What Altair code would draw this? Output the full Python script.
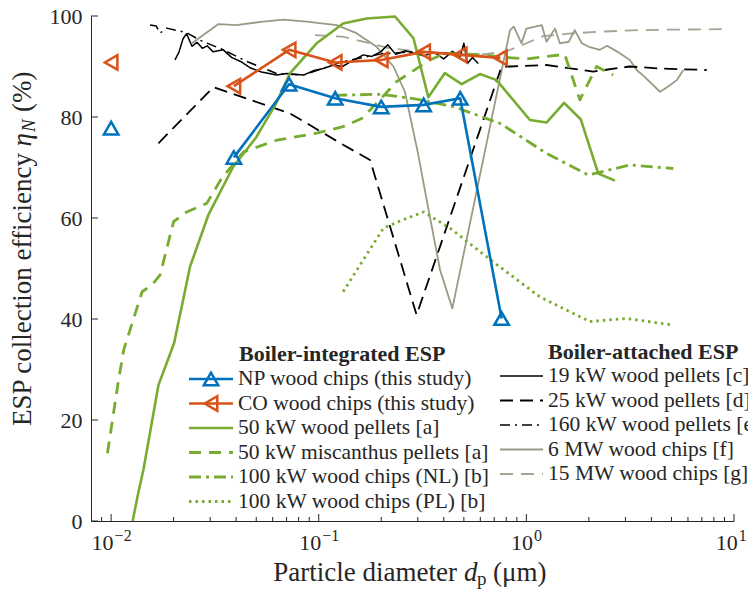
import altair as alt
import pandas as pd

FONT = "Liberation Serif"
TXT = "#262626"
BLUE = "#0072BD"
ORANGE = "#D95319"
GREEN = "#77AC30"
GRAY = "#9a9a86"
GRAY2 = "#a4a493"
BLACK = "#000000"

# ---------------- data ----------------
np0_x = [0.01]
np0_y = [77.8]
np_x = [0.039, 0.072, 0.12, 0.2, 0.32, 0.48, 0.76]
np_y = [72.0, 86.5, 83.7, 82.0, 82.4, 83.7, 40.1]

co0_x = [0.01]
co0_y = [90.8]
co_x = [0.039, 0.072, 0.12, 0.2, 0.32, 0.48, 0.75]
co_y = [86.1, 93.3, 90.8, 91.3, 92.9, 92.3, 91.7]

p50_x = [0.0127, 0.0135, 0.0143, 0.0169, 0.0201, 0.024, 0.0294, 0.0388, 0.05, 0.062, 0.0728,
         0.0977, 0.131, 0.170, 0.233, 0.286, 0.337, 0.405, 0.488, 0.598, 0.719, 1.04, 1.25,
         1.52, 1.83, 2.22, 2.67]
p50_y = [0.0, 5.5, 10.1, 26.9, 35.2, 50.4, 60.6, 70.2, 76.0, 82.5, 88.7,
         94.6, 98.5, 99.5, 99.9, 95.6, 83.9, 88.7, 86.5, 88.5, 87.3, 79.4, 78.9,
         82.8, 79.5, 68.8, 67.4]

misc_x = [0.0096, 0.0108, 0.0115, 0.0141, 0.0157, 0.0172, 0.020, 0.0231, 0.0289, 0.0341, 0.0434,
          0.0628, 0.0977, 0.131, 0.161, 0.197, 0.237, 0.343, 0.405, 0.62, 0.8, 1.0, 1.25, 1.53,
          1.81, 2.18, 2.62]
misc_y = [13.4, 27.3, 33.9, 45.4, 46.7, 48.7, 59.3, 61.2, 62.9, 67.9, 73.1,
          75.4, 76.8, 78.1, 79.7, 83.4, 87.0, 91.3, 92.6, 92.3, 91.8, 91.5, 92.0, 92.4,
          83.4, 90.0, 88.3]

nl_x = [0.12, 0.2, 0.3, 0.45, 0.75, 1.25, 1.99, 3.15, 5.1]
nl_y = [84.3, 84.5, 83.5, 82.0, 78.7, 72.8, 68.5, 70.5, 69.8]

pl_x = [0.131, 0.205, 0.25, 0.32, 0.428, 0.693, 1.16, 2.02, 3.04, 5.1]
pl_y = [45.4, 58.0, 59.5, 61.2, 58.0, 51.3, 44.4, 39.5, 40.1, 38.8]

k19_x = [0.0203, 0.0212, 0.0222, 0.0231, 0.0245, 0.0259, 0.0275, 0.029, 0.031, 0.0347, 0.038,
         0.042, 0.047, 0.053, 0.0628, 0.07, 0.0843, 0.095, 0.105, 0.118, 0.13, 0.145, 0.164,
         0.18, 0.2, 0.215, 0.235, 0.26, 0.29, 0.32, 0.36, 0.4, 0.44, 0.48, 0.5, 0.52, 0.55, 0.586]
k19_y = [91.3, 92.8, 95.5, 96.5, 94.0, 94.8, 93.6, 94.1, 92.9, 93.3, 91.8,
         91.0, 89.7, 88.9, 88.3, 88.6, 88.3, 89.2, 89.6, 90.3, 90.0, 91.1, 92.3,
         92.0, 93.0, 94.3, 92.4, 93.1, 92.6, 92.1, 92.8, 91.5, 93.0, 92.0, 94.6, 90.6, 91.8, 90.6]

k25_x = [0.0169, 0.0311, 0.0728, 0.131, 0.1766, 0.296, 0.76, 0.834, 1.25, 2.1, 3.15, 4.4, 7.4]
k25_y = [74.8, 85.9, 80.7, 74.5, 71.5, 40.8, 90.0, 90.0, 90.3, 89.0, 90.0, 89.6, 89.3]

k160_x = [0.0154, 0.0165, 0.0172, 0.0185, 0.0231, 0.0268, 0.0347, 0.045, 0.0628, 0.0843, 0.131,
          0.2, 0.3, 0.45]
k160_y = [98.2, 98.0, 96.6, 97.6, 96.7, 95.2, 93.3, 91.0, 88.6, 88.3, 91.0, 92.5, 93.0, 92.5]

mw6_x = [0.0245, 0.0329, 0.04, 0.0541, 0.0676, 0.0875, 0.122, 0.152, 0.19, 0.229, 0.26, 0.3,
         0.331, 0.384, 0.44, 0.834, 0.87, 0.948, 1.0, 1.186, 1.25, 1.374, 1.45, 1.6, 1.71,
         1.85, 2.0, 2.26, 2.45, 2.75, 3.15, 3.4, 3.7, 4.4, 4.8, 5.3, 5.7]
mw6_y = [94.6, 98.4, 98.2, 98.9, 99.3, 98.9, 98.2, 96.6, 93.9, 90.0, 85.0, 73.0,
         63.6, 49.7, 42.1, 97.2, 97.9, 94.6, 97.5, 98.2, 94.9, 97.5, 94.6, 94.9, 97.2,
         94.6, 93.9, 93.3, 94.1, 92.9, 91.3, 89.3, 88.0, 85.0, 86.0, 87.3, 89.3]

mw15_x = [0.096, 0.13, 0.177, 0.22, 0.3, 0.45, 0.6, 0.8, 1.0, 1.2, 1.6, 2.26, 3.5, 5.0, 9.2]
mw15_y = [96.2, 95.9, 94.6, 93.6, 93.0, 92.5, 92.3, 93.0, 94.6, 96.0, 96.5, 96.9, 97.2, 97.3, 97.4]

y_ticks = [0, 20, 40, 60, 80, 100]
x_major = [0.01, 0.1, 1, 10]
x_minor = [0.009, 0.02, 0.03, 0.04, 0.05, 0.06, 0.07, 0.08, 0.09,
           0.2, 0.3, 0.4, 0.5, 0.6, 0.7, 0.8, 0.9,
           2, 3, 4, 5, 6, 7, 8, 9]
x_exps = ["\u22122", "\u22121", "0", "1"]

leg1_title = "Boiler-integrated ESP"
leg1_labels = ["NP wood chips (this study)", "CO wood chips (this study)",
               "50 kW wood pellets [a]", "50 kW miscanthus pellets [a]",
               "100 kW wood chips (NL) [b]", "100 kW wood chips (PL) [b]"]
leg2_title = "Boiler-attached ESP"
leg2_labels = ["19 kW wood pellets [c]", "25 kW wood pellets [d]", "160 kW wood pellets [e]",
               "6 MW wood chips [f]", "15 MW wood chips [g]"]

# ---------------- chart ----------------
W, H = 643, 505
xscale = alt.Scale(type="log", domain=[0.008, 10], nice=False)
yscale = alt.Scale(domain=[0, 100], nice=False)
xaxis = alt.Axis(values=x_major, labels=False, ticks=False, tickSize=0, grid=False,
                 domainColor=TXT, domainWidth=1, title=None)
yaxis = alt.Axis(values=y_ticks, ticks=False, tickSize=0, grid=False, domainColor=TXT,
                 domainWidth=1, labelFont=FONT, labelFontSize=22, labelColor=TXT,
                 labelPadding=9, title=None)


def X():
    return alt.X("x:Q", scale=xscale, axis=xaxis)


def Y():
    return alt.Y("y:Q", scale=yscale, axis=yaxis)


def line(xs, ys, color, width, dash=None):
    df = pd.DataFrame({"x": xs, "y": ys})
    kw = dict(color=color, strokeWidth=width, strokeJoin="round")
    if dash:
        kw["strokeDash"] = dash
    return alt.Chart(df).mark_line(**kw).encode(x=X(), y=Y())


def pts(xs, ys, color, shape):
    df = pd.DataFrame({"x": xs, "y": ys})
    return alt.Chart(df).mark_point(shape=shape, filled=False, color=color, strokeWidth=2.5,
                                    size=210, opacity=1).encode(x=X(), y=Y())


one = pd.DataFrame({"a": [0]})


def txt(x, y, s, size=21, align="left", angle=0, bold=False, italic=False, baseline="middle"):
    kw = dict(align=align, baseline=baseline, font=FONT, fontSize=size, color=TXT)
    if angle:
        kw["angle"] = angle
    if bold:
        kw["fontWeight"] = "bold"
    if italic:
        kw["fontStyle"] = "italic"
    return alt.Chart(one).mark_text(**kw).encode(x=alt.value(x), y=alt.value(y), text=alt.value(s))


layers = []
layers.append(line(mw15_x, mw15_y, GRAY2, 1.8, [13, 8]))
layers.append(line(mw6_x, mw6_y, GRAY, 1.8))
layers.append(line(k160_x, k160_y, BLACK, 1.5, [10, 5, 2, 5]))
layers.append(line(k25_x, k25_y, BLACK, 1.8, [13, 7]))
layers.append(line(k19_x, k19_y, BLACK, 1.5))
layers.append(line(pl_x, pl_y, GREEN, 2.8, [2.5, 4]))
layers.append(line(nl_x, nl_y, GREEN, 2.8, [12, 5, 3, 5]))
layers.append(line(misc_x, misc_y, GREEN, 2.8, [12, 8]))
layers.append(line(p50_x, p50_y, GREEN, 2.6))
layers.append(line(co_x, co_y, ORANGE, 2.6))
layers.append(pts(co_x + co0_x, co_y + co0_y, ORANGE, "triangle-left"))
layers.append(line(np_x, np_y, BLUE, 2.6))
layers.append(pts(np_x + np0_x, np_y + np0_y, BLUE, "triangle-up"))

maj = pd.DataFrame({"x": x_major})
mnr = pd.DataFrame({"x": x_minor})
yt = pd.DataFrame({"y": y_ticks})
layers.append(alt.Chart(maj).mark_rule(color=TXT, strokeWidth=1).encode(
    x=X(), y=alt.value(H), y2=alt.value(H - 7)))
layers.append(alt.Chart(mnr).mark_rule(color=TXT, strokeWidth=1).encode(
    x=X(), y=alt.value(H), y2=alt.value(H - 4)))
layers.append(alt.Chart(yt).mark_rule(color=TXT, strokeWidth=1).encode(
    y=Y(), x=alt.value(0), x2=alt.value(7)))

for v, e in zip(x_major, x_exps):
    wexp = 17 if len(e) > 1 else 8.5
    shift = (22 - wexp) / 2
    if v == 10:
        shift -= 3
    d = pd.DataFrame({"x": [v]})
    layers.append(alt.Chart(d).mark_text(align="right", baseline="middle", font=FONT,
                                         fontSize=22, color=TXT, dx=shift).encode(
        x=X(), y=alt.value(H + 22), text=alt.value("10")))
    layers.append(alt.Chart(d).mark_text(align="left", baseline="middle", font=FONT,
                                         fontSize=16, color=TXT, dx=shift + 1).encode(
        x=X(), y=alt.value(H + 15), text=alt.value(e)))

TS = 27
layers.append(txt(366, 557, "Particle diameter", TS, align="right"))
layers.append(txt(373, 557, "d", TS, italic=True))
layers.append(txt(386, 563, "p", 19))
layers.append(txt(402, 557, "(\u03bcm)", TS))

layers.append(txt(-68, 137, "ESP collection efficiency", TS, align="right", angle=270))
layers.append(txt(-68, 117, "\u03b7", TS, align="right", angle=270, italic=True))
layers.append(txt(-62, 116, "N", 19, align="left", angle=270, italic=True))
layers.append(txt(-68, 96, "(%)", TS, align="left", angle=270))

ROW = 24.5
LS = 21.5
c1_sx, c1_ex, c1_tx, c1_y0 = 98, 142, 147, 363
c2_sx, c2_ex, c2_tx, c2_y0 = 409, 452, 457, 360
layers.append(txt(148, 338, leg1_title, 22, bold=True))
layers.append(txt(457, 336, leg2_title, 22, bold=True))

leg1_style = [(BLUE, 2.6, None, "triangle-up"), (ORANGE, 2.6, None, "triangle-left"),
              (GREEN, 2.6, None, None), (GREEN, 2.8, [12, 8], None),
              (GREEN, 2.8, [12, 5, 3, 5], None), (GREEN, 2.8, [2.5, 4], None)]
leg2_style = [(BLACK, 1.5, None), (BLACK, 1.8, [13, 7]), (BLACK, 1.5, [10, 5, 2, 5]),
              (GRAY, 1.8, None), (GRAY2, 1.8, [13, 8])]


def leg_line(x1, x2, y, color, width, dash):
    kw = dict(color=color, strokeWidth=width)
    if dash:
        kw["strokeDash"] = dash
    return alt.Chart(one).mark_rule(**kw).encode(x=alt.value(x1), x2=alt.value(x2), y=alt.value(y))


for i, (lab, st) in enumerate(zip(leg1_labels, leg1_style)):
    y = c1_y0 + i * ROW
    color, w, dash, shape = st
    layers.append(leg_line(c1_sx, c1_ex, y, color, w, dash))
    if shape:
        layers.append(alt.Chart(one).mark_point(shape=shape, filled=False, color=color,
                                                strokeWidth=2.5, size=210, opacity=1).encode(
            x=alt.value((c1_sx + c1_ex) / 2), y=alt.value(y)))
    layers.append(txt(c1_tx, y, lab, LS))

for i, (lab, st) in enumerate(zip(leg2_labels, leg2_style)):
    y = c2_y0 + i * ROW
    color, w, dash = st
    layers.append(leg_line(c2_sx, c2_ex, y, color, w, dash))
    layers.append(txt(c2_tx, y, lab, LS))

chart = alt.layer(*layers).properties(
    width=W, height=H,
    padding={"left": 83, "top": 8, "right": 14, "bottom": 68},
    autosize=alt.AutoSizeParams(type="none"),
    background="white",
).configure_view(stroke=None)

chart.save("out.html", embed_options={"renderer": "svg", "actions": False})
